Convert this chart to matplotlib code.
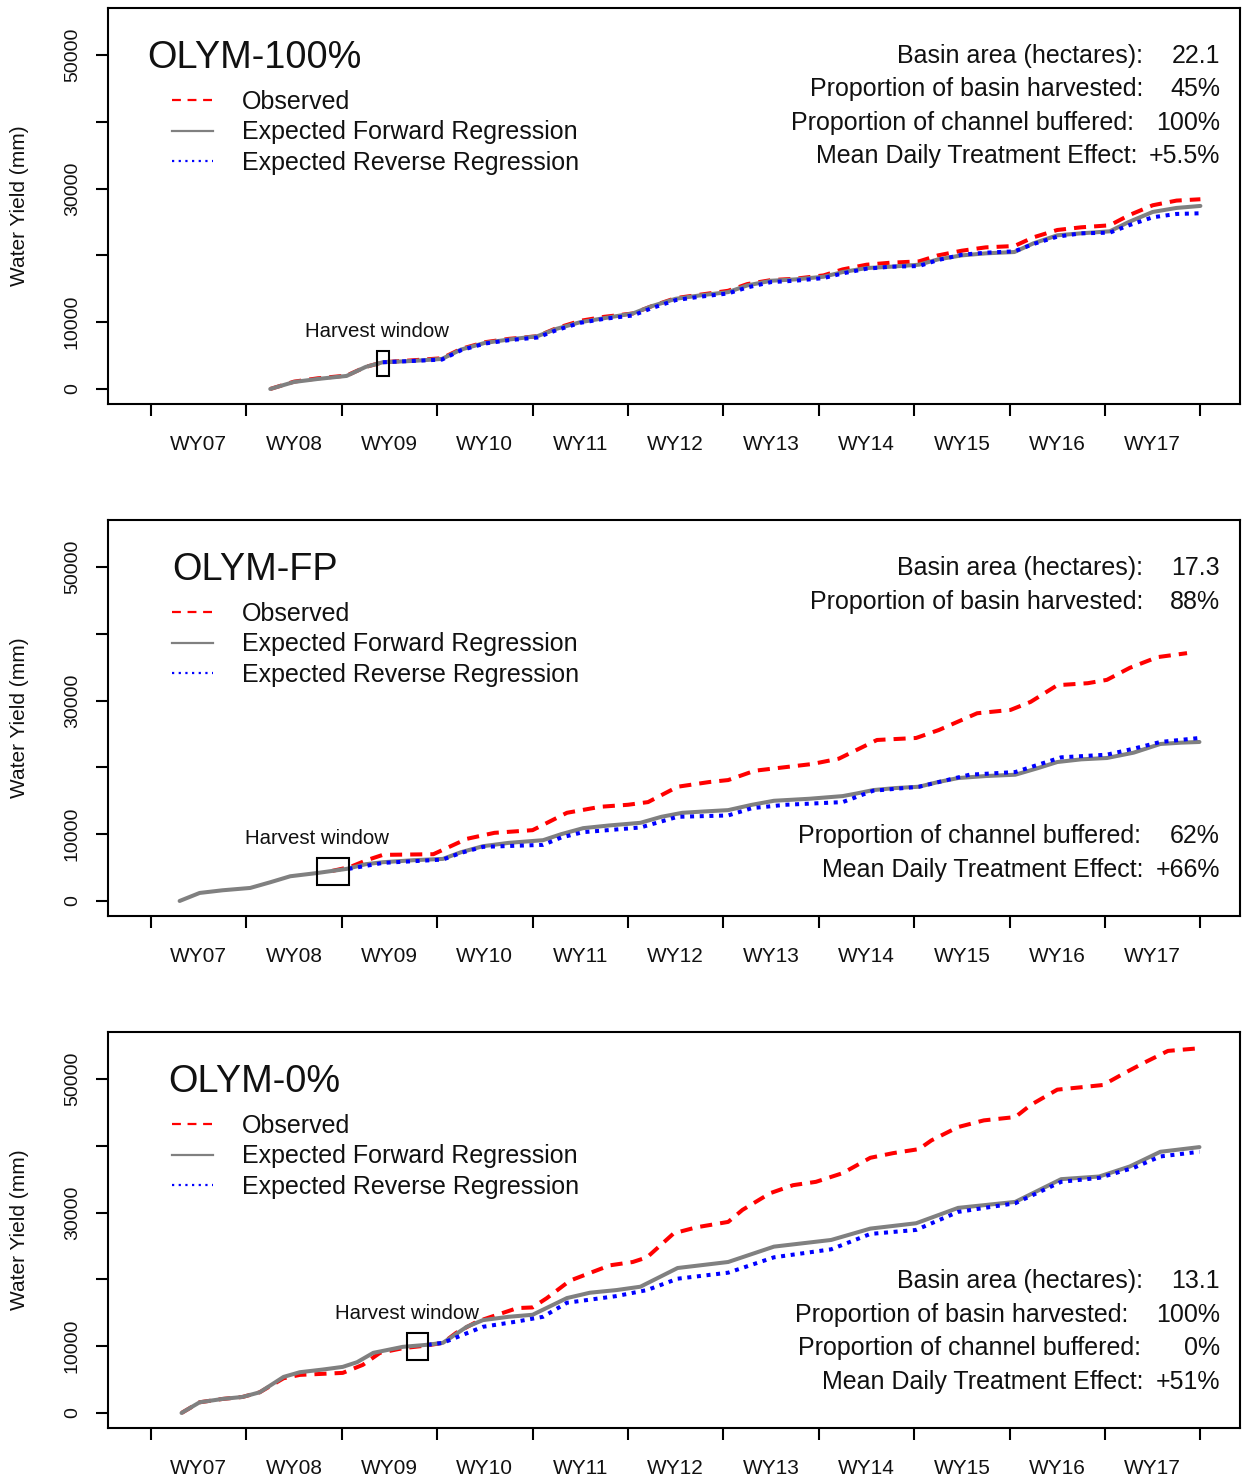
import matplotlib
matplotlib.use("Agg")
import matplotlib.pyplot as plt
from matplotlib.lines import Line2D
from matplotlib.patches import Rectangle

plt.rcParams['font.family'] = ['Liberation Sans', 'DejaVu Sans']

# ---------------- data (time in water years since 1 Oct 2006; yield in mm) ----------------
year_labels = ["WY07", "WY08", "WY09", "WY10", "WY11", "WY12", "WY13", "WY14", "WY15", "WY16", "WY17"]
y_ticks = [0, 10000, 20000, 30000, 40000, 50000]
y_tick_labels = ["0", "10000", "", "30000", "", "50000"]

# OLYM-100%
p1_fwd_t = [1.25, 1.5, 1.75, 2.05, 2.25, 2.43, 2.75, 3.05, 3.25, 3.5, 3.75, 4.05, 4.25, 4.5, 4.75, 5.05, 5.25, 5.5, 5.75,
            6.05, 6.25, 6.5, 6.75, 7.05, 7.25, 7.5, 7.75, 8.05, 8.25, 8.5, 8.75, 9.05, 9.25, 9.5, 9.75, 10.05, 10.25, 10.5, 10.75, 11.0]
p1_fwd_v = [0, 1050, 1500, 1950, 3300, 4000, 4200, 4500, 5900, 6900, 7400, 7900, 9000, 10000, 10600, 11300, 12400, 13500, 14000,
            14500, 15500, 16200, 16400, 16800, 17500, 18100, 18300, 18600, 19400, 20000, 20300, 20500, 21800, 23000, 23300, 23600, 25000, 26500, 27100, 27400]
p1_obs_t = p1_fwd_t
p1_obs_v = [0, 1100, 1600, 2000, 3300, 4000, 4300, 4600, 6000, 7000, 7500, 7900, 9100, 10200, 10800, 11300, 12400, 13600, 14100,
            14700, 15700, 16300, 16500, 17000, 17900, 18600, 18900, 19100, 20000, 20700, 21200, 21400, 22700, 23800, 24200, 24500, 26000, 27500, 28200, 28400]
p1_rev_t = [2.43, 2.75, 3.05, 3.25, 3.5, 3.75, 4.05, 4.25, 4.5, 4.75, 5.05, 5.25, 5.5, 5.75,
            6.05, 6.25, 6.5, 6.75, 7.05, 7.25, 7.5, 7.75, 8.05, 8.25, 8.5, 8.75, 9.05, 9.25, 9.5, 9.75, 10.05, 10.25, 10.5, 10.75, 11.0]
p1_rev_v = [4000, 4200, 4400, 5800, 6800, 7300, 7700, 8800, 9900, 10500, 11000, 12100, 13300, 13800,
            14300, 15200, 16000, 16200, 16600, 17300, 18000, 18300, 18400, 19300, 20100, 20400, 20600, 21700, 22800, 23300, 23400, 24500, 25700, 26200, 26300]

# OLYM-FP
p2_fwd_t = [0.3, 0.51, 0.75, 1.04, 1.25, 1.46, 1.75, 2.05, 2.25, 2.43, 2.75, 3.06, 3.25, 3.48, 3.75, 4.11, 4.3, 4.53, 4.8, 5.13,
            5.35, 5.57, 5.8, 6.05, 6.3, 6.53, 6.9, 7.25, 7.4, 7.57, 7.8, 8.05, 8.25, 8.46, 8.75, 9.06, 9.3, 9.5, 9.75, 10.02, 10.3, 10.58, 10.8, 10.99]
p2_fwd_v = [0, 1200, 1600, 1950, 2800, 3700, 4200, 4800, 5500, 5800, 6100, 6300, 7300, 8200, 8700, 9100, 10000, 10900, 11300, 11700,
            12600, 13200, 13400, 13600, 14400, 15000, 15300, 15700, 16100, 16600, 16900, 17100, 17800, 18400, 18700, 18900, 19900, 20800, 21200, 21400, 22200, 23500, 23700, 23800]
p2_obs_t = [1.9, 2.09, 2.26, 2.43, 2.96, 3.31, 3.6, 4.0, 4.36, 4.71, 5.0, 5.21, 5.52, 5.85, 6.05, 6.33, 6.93, 7.21, 7.61, 8.02,
            8.26, 8.66, 9.01, 9.22, 9.5, 9.82, 10.02, 10.26, 10.55, 10.86]
p2_obs_v = [4500, 5100, 6100, 6900, 7000, 9300, 10200, 10600, 13200, 14100, 14400, 14800, 17100, 17800, 18100, 19500, 20500, 21300, 24100, 24400,
            25600, 28100, 28600, 29800, 32300, 32600, 33100, 34900, 36500, 37100]
p2_rev_t = [2.07, 2.43, 3.06, 3.25, 3.48, 4.11, 4.3, 4.53, 5.13, 5.52, 6.05, 6.3, 6.65, 7.25, 7.57, 8.05, 8.58, 9.06, 9.54, 10.02, 10.3, 10.58, 10.99]
p2_rev_v = [4800, 5700, 6200, 7200, 8100, 8400, 9500, 10300, 11000, 12600, 12800, 13900, 14400, 14800, 16500, 17100, 18900, 19300, 21500, 21900, 22800, 23800, 24400]

# OLYM-0%
p3_fwd_t = [0.32, 0.51, 0.75, 0.96, 1.14, 1.39, 1.56, 1.8, 2.01, 2.16, 2.33, 2.64, 2.89, 3.06, 3.31, 3.48, 3.75, 4.0, 4.36, 4.6, 4.88,
            5.13, 5.52, 6.05, 6.53, 7.13, 7.54, 8.02, 8.46, 9.06, 9.54, 9.94, 10.26, 10.58, 10.99]
p3_fwd_v = [0, 1600, 2100, 2400, 3100, 5400, 6100, 6500, 6900, 7600, 9000, 9900, 10200, 10500, 12900, 13900, 14400, 14700, 17200, 18000, 18400,
            18900, 21700, 22600, 24900, 25900, 27600, 28400, 30700, 31600, 35000, 35400, 36900, 39100, 39800]
p3_obs_t = [0.32, 0.51, 0.75, 0.96, 1.14, 1.39, 1.56, 2.01, 2.22, 2.4, 2.64, 2.89, 3.06, 3.2, 3.42, 3.84, 4.0, 4.15, 4.39, 4.81, 5.05,
            5.2, 5.48, 5.72, 6.05, 6.2, 6.49, 6.73, 6.97, 7.25, 7.54, 7.78, 8.05, 8.18, 8.46, 8.73, 9.06, 9.22, 9.5, 9.78, 9.98, 10.22, 10.42, 10.66, 10.99]
p3_obs_v = [0, 1600, 2100, 2400, 3100, 5200, 5700, 6000, 7200, 9000, 9700, 10100, 10500, 12000, 13700, 15700, 15800, 17200, 19800, 22100, 22600,
            23300, 26900, 27800, 28600, 30400, 32900, 34100, 34600, 35900, 38200, 38900, 39500, 40800, 42800, 43800, 44300, 46100, 48400, 48800, 49100, 51000, 52500, 54200, 54600]
p3_rev_t = [2.9, 3.06, 3.48, 3.84, 4.11, 4.36, 4.88, 5.2, 5.52, 6.05, 6.53, 7.13, 7.54, 8.02, 8.46, 9.06, 9.54, 9.94, 10.3, 10.58, 10.99]
p3_rev_v = [10200, 10500, 12900, 13700, 14400, 16500, 17500, 18400, 20100, 21000, 23300, 24500, 26800, 27400, 30100, 31400, 34600, 35200, 36700, 38400, 39100]

# harvest windows (time range, yield range)
harvest_t = [(2.37, 2.49), (1.74, 2.08), (2.68, 2.90)]
harvest_v = [(1900, 5700), (2400, 6400), (7900, 12000)]

site_names = ["OLYM-100%", "OLYM-FP", "OLYM-0%"]
info_labels = ["Basin area (hectares):", "Proportion of basin harvested:",
               "Proportion of channel buffered:", "Mean Daily Treatment Effect:"]
info_values = [["22.1", "45%", "100%", "+5.5%"],
               ["17.3", "88%", "62%", "+66%"],
               ["13.1", "100%", "0%", "+51%"]]
legend_labels = ["Observed", "Expected Forward Regression", "Expected Reverse Regression"]

# ---------------- layout ----------------
W, H = 1244, 1479
fig = plt.figure(figsize=(W / 100, H / 100), dpi=100)

def fx(x):
    return x / W

def fy(y):
    return 1 - y / H

panel_tops = [8, 520, 1032]
title_x = [147, 172, 168]
info_rows = [[48, 81, 115, 148], [48, 82, 316, 350], [249, 283, 316, 350]]
info_label_right = [[1143, 1143, 1134, 1137], [1143, 1143, 1141, 1144], [1143, 1128, 1141, 1144]]

series = [
    (p1_obs_t, p1_obs_v, p1_fwd_t, p1_fwd_v, p1_rev_t, p1_rev_v),
    (p2_obs_t, p2_obs_v, p2_fwd_t, p2_fwd_v, p2_rev_t, p2_rev_v),
    (p3_obs_t, p3_obs_v, p3_fwd_t, p3_fwd_v, p3_rev_t, p3_rev_v),
]

RED = "#ff0000"
GRAY = "#808080"
BLUE = "#0000ff"
LW = 2.9

for i in range(3):
    top = panel_tops[i]
    bot = top + 396
    ax = fig.add_axes([fx(108), fy(bot), (1240 - 108) / W, 396 / H])
    ax.set_xlim(-0.4507, 11.4151)
    ax.set_ylim(-2250, 57030)
    ot, ov, ft, fv, rt, rv = series[i]
    ax.plot(ot, ov, color=RED, lw=LW, linestyle=(0, (3, 2)), zorder=2)
    ax.plot(ft, fv, color=GRAY, lw=LW, solid_capstyle='round', solid_joinstyle='round', zorder=3)
    ax.plot(rt, rv, color=BLUE, lw=LW, linestyle=(0, (1, 1.4)), zorder=4)

    # harvest window
    (t0, t1), (v0, v1) = harvest_t[i], harvest_v[i]
    ax.add_patch(Rectangle((t0, v0), t1 - t0, v1 - v0, fill=False, ec='black', lw=1.5, zorder=5))
    ax.text(t0, v1 + 2900, "Harvest window", ha='center', va='center', fontsize=14.7, color='#111111')

    for s in ax.spines.values():
        s.set_linewidth(1.5)
    ax.set_xticks(range(12))
    ax.set_xticklabels([])
    ax.set_xticks([k + 0.5 for k in range(11)], minor=True)
    ax.set_xticklabels(year_labels, minor=True, fontsize=15, color='#111111')
    ax.tick_params(axis='x', which='major', length=8.6, width=1.5, direction='out')
    ax.tick_params(axis='x', which='minor', length=0, pad=22.5)
    ax.set_yticks(y_ticks)
    ax.set_yticklabels(y_tick_labels, fontsize=14, color='#111111')
    ax.tick_params(axis='y', length=8.6, width=1.5, pad=11)
    plt.setp(ax.get_yticklabels(), rotation=90, va='center', ha='right')

    # y label
    fig.text(fx(20), fy(top + 198), "Water Yield (mm)", rotation=90, ha='center', va='center',
             fontsize=15, color='#111111')

    # title
    fig.text(fx(title_x[i]), fy(top + 50), site_names[i], ha='left', va='center', fontsize=27.3, color='#111111')

    # legend
    styles = [dict(color=RED, linestyle=(0, (4, 3))), dict(color=GRAY, linestyle='-'),
              dict(color=BLUE, linestyle=(0, (1, 2)))]
    for j, lab in enumerate(legend_labels):
        yy = top + 92 + 30.5 * j
        fig.add_artist(Line2D([fx(172), fx(213)], [fy(yy), fy(yy)], lw=1.6, **styles[j]))
        fig.text(fx(242), fy(yy + 2), lab, ha='left', va='center', fontsize=18, color='#111111')

    # info text
    for j in range(4):
        yy = top + info_rows[i][j]
        fig.text(fx(info_label_right[i][j]), fy(yy), info_labels[j], ha='right', va='center',
                 fontsize=18, color='#111111')
        fig.text(fx(1220), fy(yy), info_values[i][j], ha='right', va='center', fontsize=18, color='#111111')

fig.savefig("out.png", dpi=100)
